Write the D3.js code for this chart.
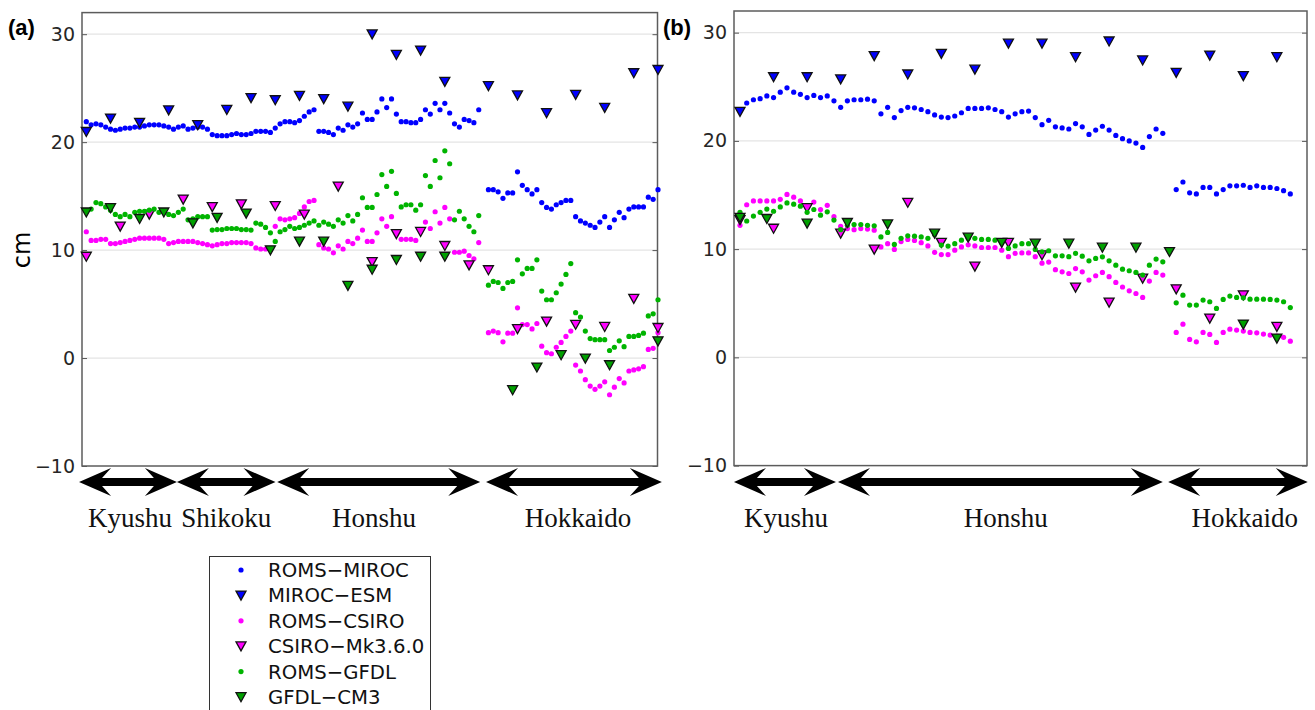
<!DOCTYPE html>
<html>
<head>
<meta charset="utf-8">
<script src="https://cdn.jsdelivr.net/npm/d3@7"></script>
<style>
  body { margin: 0; background: #fff; }
  svg { display: block; }
  .ticklab text { font-family: "DejaVu Sans", sans-serif; font-size: 19px; fill: #262626; }
  .region { font-family: "Liberation Serif", "Times New Roman", serif; font-size: 27px; fill: #111; }
  .legend text { font-family: "DejaVu Sans", sans-serif; font-size: 19.7px; fill: #111; }
</style>
</head>
<body>
<div id="chart"></div>
<script>
"use strict";

// ---- panel (a): all stations, station index 0..118 ----
var romsMirocA = [21.9,21.6,21.7,21.6,21.4,21.2,21.1,21.2,21.3,21.3,21.4,21.4,21.5,21.6,21.6,21.6,21.5,21.4,21.2,21.4,
  21.5,21.2,21.3,21.4,21.4,21.2,20.7,20.6,20.6,20.6,20.7,20.8,20.7,20.7,20.8,21.0,21.0,21.0,20.9,21.3,
  21.7,21.9,21.9,21.8,22.0,22.4,22.8,23.0,21.0,21.0,20.9,20.7,21.3,21.1,21.6,21.4,21.7,22.7,22.1,22.1,
  22.8,24.0,23.2,24.0,22.6,21.9,21.9,21.8,21.8,22.1,23.0,22.6,23.6,23.0,23.6,22.7,21.7,21.4,22.1,22.0,
  21.8,23.0,null,15.6,15.6,15.4,14.8,15.3,15.3,17.25,16.0,15.6,15.2,15.6,14.4,13.95,13.8,14.2,14.4,14.6,
  14.6,13.1,12.7,12.5,12.3,12.1,12.6,13.1,12.1,12.8,13.5,13.0,13.8,14.0,14.0,14.0,14.9,14.7,15.6];
var romsCsiroA = [11.7,10.9,10.9,11.0,11.0,10.6,10.6,10.7,10.8,10.9,11.0,11.1,11.1,11.1,11.1,11.1,11.0,10.6,10.7,10.8,
  10.8,10.8,10.8,10.7,10.6,10.5,10.4,10.5,10.6,10.6,10.7,10.7,10.7,10.7,10.6,10.2,10.1,10.1,10.1,12.2,
  12.9,12.8,12.9,13.0,13.4,14.0,14.5,14.6,10.5,10.2,10.1,9.75,10.4,10.1,10.8,10.6,11.1,11.85,10.8,10.8,
  11.6,12.9,12.2,13.1,11.5,11.0,11.0,11.0,10.9,11.85,12.6,12.0,13.55,12.5,13.95,12.9,9.8,9.8,9.9,9.5,
  9.2,10.7,null,2.35,2.5,2.35,1.5,2.3,2.3,4.65,3.1,3.1,2.7,3.2,1.1,0.5,0.4,1.0,1.45,2.0,
  2.5,-0.65,-1.2,-2.0,-2.6,-2.9,-2.6,-2.2,-3.4,-2.7,-1.9,-2.3,-1.2,-1.1,-1.0,-0.8,0.8,0.9,2.35];
var romsGfdlA = [13.6,13.8,14.4,14.3,14.0,13.7,13.3,13.1,13.3,13.1,13.5,13.6,13.6,13.7,13.8,13.5,13.5,13.3,13.2,13.5,
  13.8,12.8,12.9,13.1,13.1,13.1,11.85,11.9,11.9,12.0,12.0,12.0,11.9,11.9,11.85,12.5,12.4,12.1,11.6,10.8,
  11.7,11.9,12.2,12.0,12.1,12.3,12.5,12.7,12.3,12.6,12.4,12.2,12.8,12.5,13.2,12.7,13.3,14.85,13.95,13.95,
  15.15,17.0,15.9,17.3,15.25,14.0,14.2,14.2,13.7,14.2,16.9,15.9,18.3,16.7,19.2,18.0,12.8,13.6,12.9,12.2,
  11.7,13.2,null,6.75,7.1,7.0,6.45,7.0,7.1,9.1,7.8,8.3,8.3,9.1,6.2,5.4,5.4,6.05,6.85,7.75,
  8.75,4.2,3.8,2.5,1.8,1.7,1.7,1.7,0.7,1.0,1.6,1.05,2.0,2.0,2.1,2.3,3.9,4.1,5.4];

var mirocEsmIdxA = [0,5,11,17,23,29,34,39,44,49,54,59,64,69,74,83,89,95,101,107,113,118];
var mirocEsmA = [20.96,22.2,21.8,22.96,21.6,23.0,24.1,23.9,24.3,24.0,23.3,30.0,28.1,28.5,25.6,25.2,24.35,22.7,24.4,23.2,26.4,26.7];
var csiroIdxA = [0,7,13,20,26,32,39,45,52,59,64,69,74,79,83,89,95,101,107,113,118];
var csiroA = [9.4,12.2,13.3,14.7,14.0,14.26,14.1,13.3,15.9,8.9,11.5,11.7,10.4,8.6,8.15,2.7,3.4,3.1,2.9,5.5,2.8];
var gfdlIdxA = [0,5,11,16,22,27,33,38,44,49,54,59,64,69,74,88,93,98,103,108,118];
var gfdlA = [13.5,13.9,12.9,13.5,12.5,13.0,13.4,10.0,10.8,10.8,6.7,8.2,9.1,9.4,9.4,-2.96,-0.86,0.28,-0.03,-0.65,1.57];

// ---- panel (b): station index 0..82 ----
var romsMirocB = [null,23.5,23.8,23.9,24.15,24.0,24.5,24.9,24.5,24.3,24.0,24.2,24.0,24.15,23.7,23.1,23.7,23.8,23.8,23.85,
  23.7,22.5,23.1,22.15,22.8,23.1,23.05,22.9,22.7,22.4,22.2,22.15,22.3,22.6,23.0,23.0,23.0,23.05,22.9,22.7,
  22.2,22.5,22.7,22.75,22.15,21.5,21.9,21.3,21.2,21.1,21.6,21.3,20.6,21.0,21.35,21.0,20.5,20.2,20.0,19.8,
  19.4,20.4,21.1,20.7,null,15.5,16.2,15.2,15.1,15.7,15.7,15.1,15.5,15.85,15.85,15.9,15.7,15.85,15.7,15.7,
  15.6,15.4,15.1];
var romsCsiroB = [12.2,14.1,14.45,14.45,14.45,14.45,14.6,15.05,14.8,14.45,13.9,14.35,13.65,14.05,13.0,12.1,11.9,11.8,11.9,11.85,
  11.75,10.2,10.5,9.97,10.7,10.9,10.8,10.6,10.3,9.7,9.5,9.5,9.9,10.2,10.4,10.3,10.15,10.15,10.15,9.9,
  9.3,9.6,9.65,9.65,9.3,8.7,8.8,8.1,7.9,7.75,8.2,7.9,7.14,7.54,7.85,7.45,6.92,6.5,6.15,5.9,
  5.54,7.05,7.85,7.6,null,2.3,3.07,1.66,1.44,2.3,2.12,1.38,2.3,2.6,2.52,2.43,2.3,2.27,2.15,2.06,
  1.97,1.85,1.5];
var romsGfdlB = [13.4,12.6,13.05,13.4,13.7,13.5,13.9,14.27,14.15,13.97,13.4,13.66,13.14,13.45,12.68,11.8,12.2,12.27,12.27,12.2,
  12.15,11.13,11.54,10.43,11.0,11.23,11.2,11.13,11.0,11.35,10.37,10.28,10.5,10.83,11.0,11.0,10.9,10.9,10.83,10.6,
  10.06,10.3,10.5,10.5,9.97,9.75,9.85,9.38,9.38,9.3,9.6,9.35,8.92,9.14,9.29,8.92,8.52,8.15,8.0,7.85,
  7.6,8.52,9.08,8.83,null,5.04,5.75,4.83,4.83,5.29,5.14,4.52,5.35,5.66,5.54,5.5,5.38,5.38,5.38,5.35,
  5.29,5.14,4.6];

var mirocEsmIdxB = [0,5,10,15,20,25,30,35,40,45,50,55,60,65,70,75,80];
var mirocEsmB = [22.7,25.9,25.9,25.7,27.85,26.15,28.06,26.6,29.0,29.0,27.75,29.2,27.45,26.3,27.9,26.0,27.75];
var csiroIdxB = [0,5,10,15,20,25,30,35,40,45,50,55,60,65,70,75,80];
var csiroB = [12.7,11.9,13.8,11.45,9.97,14.3,10.6,8.4,10.6,9.45,6.46,5.08,7.3,6.3,3.6,5.75,2.83];
var gfdlIdxB = [0,4,10,16,22,29,34,39,44,49,54,59,64,75,80];
var gfdlB = [12.9,12.8,12.37,12.43,12.3,11.45,11.08,10.6,10.52,10.52,10.15,10.15,9.75,3.05,1.75];

var yTicks = [-10, 0, 10, 20, 30];
var gridVals = [0, 10, 20, 30];

// regions along the coast, in station-index units
var regionsA = [
  { name: 'Kyushu', from: -1.5, to: 18.7, label: 9.0 },
  { name: 'Shikoku', from: 18.7, to: 39.05, label: 28.9 },
  { name: 'Honshu', from: 39.4, to: 81.3, label: 59.4 },
  { name: 'Hokkaido', from: 82.5, to: 118.8, label: 101.5 }
];
var regionsB = [
  { name: 'Kyushu', from: -0.9, to: 14.3, label: 6.85 },
  { name: 'Honshu', from: 14.6, to: 63.0, label: 39.6 },
  { name: 'Hokkaido', from: 63.8, to: 84.6, label: 75.2 }
];

var legendNames = ['ROMS\u2212MIROC', 'MIROC\u2212ESM', 'ROMS\u2212CSIRO', 'CSIRO\u2212Mk3.6.0', 'ROMS\u2212GFDL', 'GFDL\u2212CM3'];
var dotColors = ['#0000ff', '#ff00ff', '#00b400'];
var triColors = ['#0000ff', '#ff00ff', '#00a000'];

var width = 1315, height = 710;
var svg = d3.select('#chart').append('svg')
  .attr('width', width).attr('height', height);

var triPath = 'M-5,-4.3L5,-4.3L0,4.7Z';

var panels = [
  { tag: '(a)', tagX: 8, left: 82, right: 657.5, top: 12.6, bottom: 466, first: 86.3, last: 658,
    dots: [romsMirocA, romsCsiroA, romsGfdlA],
    tris: [[mirocEsmIdxA, mirocEsmA], [csiroIdxA, csiroA], [gfdlIdxA, gfdlA]],
    regions: regionsA },
  { tag: '(b)', tagX: 663, left: 734, right: 1307, top: 11, bottom: 465.6, first: 740, last: 1290.3,
    dots: [romsMirocB, romsCsiroB, romsGfdlB],
    tris: [[mirocEsmIdxB, mirocEsmB], [csiroIdxB, csiroB], [gfdlIdxB, gfdlB]],
    regions: regionsB }
];

panels.forEach(function (p) {
  var n = p.dots[0].length;
  var x = d3.scaleLinear().domain([0, n - 1]).range([p.first, p.last]);
  var y = d3.scaleLinear().domain([-10, 32]).range([p.bottom, p.top]);
  var g = svg.append('g');

  // grid
  g.selectAll('.grid').data(gridVals).enter().append('line')
    .attr('x1', p.left).attr('x2', p.right)
    .attr('y1', function (d) { return y(d); }).attr('y2', function (d) { return y(d); })
    .attr('stroke', '#e4e4e4').attr('stroke-width', 1.2);

  // axes: labels on left, small inward ticks both sides
  g.append('g').attr('class', 'ticklab')
    .attr('transform', 'translate(' + p.left + ',0)')
    .call(d3.axisLeft(y).tickValues(yTicks).tickSize(-5).tickPadding(7))
    .call(function (a) { a.select('.domain').remove(); a.selectAll('line').attr('stroke', '#555'); });
  g.append('g')
    .attr('transform', 'translate(' + p.right + ',0)')
    .call(d3.axisRight(y).tickValues(yTicks).tickSize(-5).tickFormat(''))
    .call(function (a) { a.select('.domain').remove(); a.selectAll('line').attr('stroke', '#555'); });

  g.append('rect')
    .attr('x', p.left).attr('y', p.top)
    .attr('width', p.right - p.left).attr('height', p.bottom - p.top)
    .attr('fill', 'none').attr('stroke', '#5c5c5c').attr('stroke-width', 1.5);

  // series, in legend order
  p.dots.forEach(function (vals, k) {
    g.append('g').selectAll('circle')
      .data(vals.map(function (v, i) { return { i: i, v: v }; }).filter(function (d) { return d.v !== null; }))
      .enter().append('circle')
      .attr('cx', function (d) { return x(d.i); })
      .attr('cy', function (d) { return y(d.v); })
      .attr('r', 2.6)
      .attr('fill', dotColors[k]);

    var idx = p.tris[k][0], tv = p.tris[k][1];
    g.append('g').selectAll('path')
      .data(idx.map(function (i, m) { return { i: i, v: tv[m] }; }))
      .enter().append('path')
      .attr('d', triPath)
      .attr('transform', function (d) { return 'translate(' + x(d.i) + ',' + y(d.v) + ')'; })
      .attr('fill', triColors[k])
      .attr('stroke', '#111').attr('stroke-width', 1.3);
  });

  // region arrows
  var ay = 482;
  g.selectAll('.arrow').data(p.regions).enter().append('path')
    .attr('d', function (d) {
      var x1 = x(d.from), x2 = x(d.to);
      return 'M' + x1 + ',' + ay +
        'L' + (x1 + 32) + ',' + (ay - 14) + 'L' + (x1 + 23) + ',' + (ay - 4) +
        'L' + (x2 - 23) + ',' + (ay - 4) + 'L' + (x2 - 32) + ',' + (ay - 14) +
        'L' + x2 + ',' + ay +
        'L' + (x2 - 32) + ',' + (ay + 14) + 'L' + (x2 - 23) + ',' + (ay + 4) +
        'L' + (x1 + 23) + ',' + (ay + 4) + 'L' + (x1 + 32) + ',' + (ay + 14) + 'Z';
    })
    .attr('fill', '#000');
  g.selectAll('.region').data(p.regions).enter().append('text')
    .attr('class', 'region')
    .attr('x', function (d) { return x(d.label); })
    .attr('y', 527)
    .attr('text-anchor', 'middle')
    .text(function (d) { return d.name; });

  svg.append('text')
    .attr('x', p.tagX).attr('y', 35)
    .style('font-family', '"Liberation Sans", Arial, sans-serif')
    .style('font-weight', 'bold').style('font-size', '22px')
    .text(p.tag);
});

svg.append('text')
  .attr('transform', 'translate(30,250) rotate(-90)')
  .attr('text-anchor', 'middle')
  .style('font-family', '"DejaVu Sans", sans-serif').style('font-size', '24px')
  .text('cm');

// legend
var lg = svg.append('g').attr('class', 'legend');
lg.append('rect')
  .attr('x', 209.5).attr('y', 556.5).attr('width', 221).attr('height', 170)
  .attr('fill', '#fff').attr('stroke', '#333').attr('stroke-width', 1);
var ly = d3.scaleLinear().domain([0, 5]).range([570, 697]);
legendNames.forEach(function (name, k) {
  var c = Math.floor(k / 2);
  if (k % 2 === 0) {
    lg.append('circle').attr('cx', 241).attr('cy', ly(k)).attr('r', 2.6).attr('fill', dotColors[c]);
  } else {
    lg.append('path').attr('d', triPath)
      .attr('transform', 'translate(241,' + ly(k) + ')')
      .attr('fill', triColors[c]).attr('stroke', '#111').attr('stroke-width', 1.3);
  }
  lg.append('text').attr('x', 268).attr('y', ly(k)).attr('dy', '0.36em').text(name);
});
</script>
</body>
</html>
